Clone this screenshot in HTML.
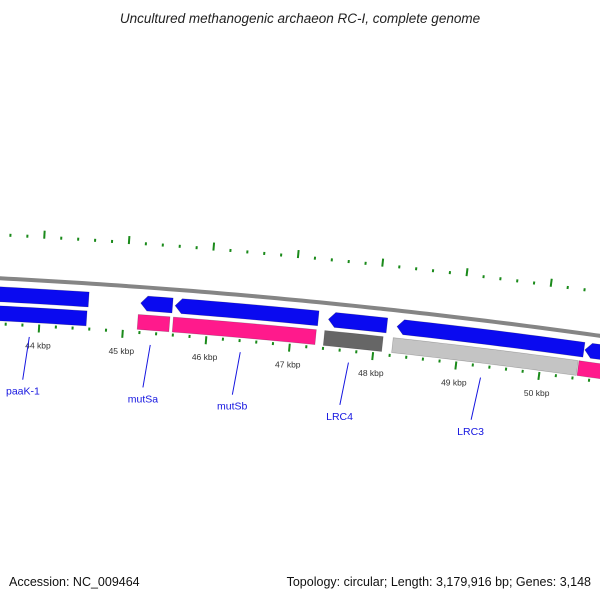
<!DOCTYPE html>
<html><head><meta charset="utf-8"><style>
body{margin:0;background:#fff;}
svg{display:block;font-family:"Liberation Sans","DejaVu Sans",sans-serif;}
</style></head><body>
<svg id="map" width="600" height="600" viewBox="0 0 600 600">
<text x="300" y="23" text-anchor="middle" font-size="13.5" font-style="italic" fill="#222">Uncultured methanogenic archaeon RC-I, complete genome</text>
<text x="9" y="586" font-size="12.5" fill="#111">Accession: NC_009464</text>
<text x="591" y="586" text-anchor="end" font-size="12.5" fill="#111">Topology: circular; Length: 3,179,916 bp; Genes: 3,148</text>
<g id="layer"></g>
</svg>
<script>
const geneStarts=[42.5,42.5,45.19,45.17,45.60,45.59,47.43,47.40,48.25,48.22,50.50,50.45];
const geneEnds=[44.57,44.56,45.57,45.55,47.31,47.30,48.13,48.10,50.49,50.44,51.5,51.5];
const geneRows=[1,2,1,2,1,2,1,2,1,2,1,2];
const geneArrowLeft=[false,false,true,false,true,false,true,false,true,false,true,false];
const geneColors=["#0a0af0","#0a0af0","#0a0af0","#ff1a8c","#0a0af0","#ff1a8c","#0a0af0","#666666","#0a0af0","#c4c4c4","#0a0af0","#ff1a8c"];
const labelNames=["paaK-1","mutSa","mutSb","LRC4","LRC3"];
const labelPos=[43.89,45.34,46.42,47.72,49.31];
const tickLabels=[44,45,46,47,48,49,50];

const NS="http://www.w3.org/2000/svg";
const R=6900,CX=-358,CY=7169;
function theta(k){return (42+84.3*(k-44)+358)/R;}
function pt(k,off){const t=theta(k),r=R+off;return [CX+r*Math.sin(t),CY-r*Math.cos(t)];}
const layer=document.getElementById('layer');
function mk(tag,attrs){const e=document.createElementNS(NS,tag);for(const a in attrs)e.setAttribute(a,attrs[a]);layer.appendChild(e);return e;}

// backbone
let d="";for(let k=42;k<=52;k+=0.1){const p=pt(k,0);d+=(d?"L":"M")+p[0].toFixed(2)+","+p[1].toFixed(2);}
const bb=mk('path',{d:d,stroke:"#858585","stroke-width":4,fill:"none"});



// ticks
for(let i=0;i<=45;i++){
  const k=42.6+i*0.2;const major=Math.abs(k-Math.round(k))<0.01;
  const a=pt(k,42),b=pt(k,major?50:45);
  const t1=mk('line',{x1:a[0],y1:a[1],x2:b[0],y2:b[1],stroke:"#1a8a1a","stroke-width":2});
  
  
  const c=pt(k,-44),e=pt(k,major?-52:-47);
  const t2=mk('line',{x1:c[0],y1:c[1],x2:e[0],y2:e[1],stroke:"#1a8a1a","stroke-width":2});
  
  
}
tickLabels.forEach(k=>{
  const p=pt(k,-65);
  const t=mk('text',{x:p[0],y:p[1]+3,"text-anchor":"middle","font-size":"8.5",fill:"#333"});
  t.textContent=k+" kbp";
  
  
});

// genes
geneStarts.forEach((s,i)=>{
  const e=geneEnds[i];const mid=geneRows[i]===1?-16:-35;const h=7.5;
  const as=geneArrowLeft[i]?s+0.08:s;
  let pts=[];
  for(let k=as;k<=e+1e-9;k+=Math.min(0.1,(e-as)/4)){pts.push(pt(k,mid+h));}
  pts.push(pt(e,mid+h));pts.push(pt(e,mid-h));
  for(let k=e;k>=as-1e-9;k-=Math.min(0.1,(e-as)/4)){pts.push(pt(k,mid-h));}
  pts.push(pt(as,mid-h));
  if(geneArrowLeft[i])pts.push(pt(s,mid));
  const g=mk('polygon',{points:pts.map(p=>p[0].toFixed(2)+","+p[1].toFixed(2)).join(" "),fill:geneColors[i],stroke:"rgba(0,0,0,0.25)","stroke-width":0.6});
  
  
});

// labels
labelNames.forEach((n,i)=>{
  const a=pt(labelPos[i],-57),b=pt(labelPos[i]-0.05,-100),c=pt(labelPos[i]-0.04,-111);
  const l=mk('line',{x1:a[0],y1:a[1],x2:b[0],y2:b[1],stroke:"#1515e0","stroke-width":1});
  
  
  const t=mk('text',{x:c[0],y:c[1]+4,"text-anchor":"middle","font-size":"10.5",fill:"#1515e0"});
  t.textContent=n;
  
  
});
</script>
</body></html>
